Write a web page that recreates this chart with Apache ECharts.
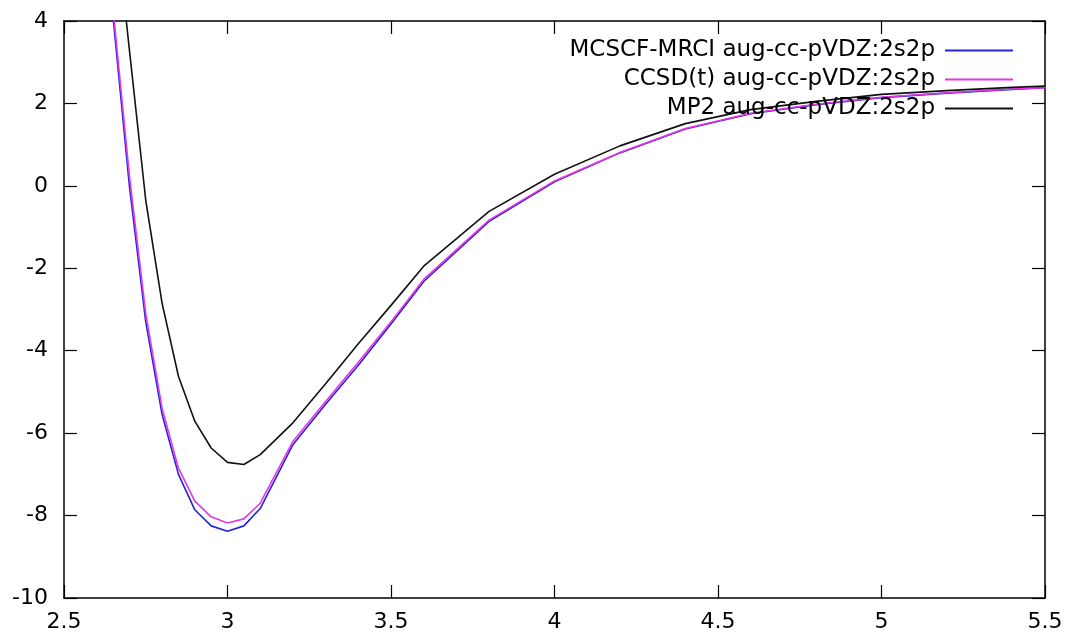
<!DOCTYPE html>
<html><head><meta charset="utf-8">
<script src="https://cdn.jsdelivr.net/npm/echarts@6/dist/echarts.min.js"></script>
<style>html,body{margin:0;padding:0;background:#fff}#c{width:1071px;height:641px}</style>
</head><body><div id="c"></div>
<script>
const xs = [2.6, 2.65, 2.7, 2.75, 2.8, 2.85, 2.9, 2.95, 3.0, 3.05, 3.1, 3.2, 3.3, 3.4, 3.5, 3.6, 3.8, 4.0, 4.2, 4.4, 4.6, 4.8, 5.0, 5.2, 5.4, 5.5];
const mrci = [9.5, 4.1, 0.0, -3.3, -5.55, -7.0, -7.86, -8.25, -8.38, -8.25, -7.83, -6.28, -5.3, -4.35, -3.35, -2.32, -0.86, 0.1, 0.8, 1.38, 1.75, 1.97, 2.14, 2.25, 2.34, 2.38];
const ccsd = [9.8, 4.3, 0.25, -3.1, -5.4, -6.85, -7.65, -8.03, -8.18, -8.08, -7.7, -6.2, -5.23, -4.28, -3.3, -2.27, -0.83, 0.12, 0.81, 1.39, 1.76, 1.98, 2.15, 2.26, 2.35, 2.38];
const mp2 = [13, 7.0, 3.3, -0.35, -2.85, -4.62, -5.71, -6.36, -6.71, -6.76, -6.52, -5.75, -4.8, -3.83, -2.9, -1.95, -0.62, 0.28, 0.97, 1.51, 1.85, 2.05, 2.22, 2.31, 2.39, 2.42];
const names = ['MCSCF-MRCI aug-cc-pVDZ:2s2p', 'CCSD(t) aug-cc-pVDZ:2s2p', 'MP2 aug-cc-pVDZ:2s2p'];
const colors = ['#2323d8', '#e635e6', '#111111'];

const pair = ys => xs.map((x, i) => [x, ys[i]]);
const font = 'DejaVu Sans';
const axisLine = {show: true, onZero: false, lineStyle: {color: '#000', width: 1.5}};
const tick = {show: true, inside: true, length: 13, lineStyle: {color: '#000', width: 1.2}};

const chart = echarts.init(document.getElementById('c'), null, {renderer: 'canvas'});
chart.setOption({
  animation: false,
  backgroundColor: '#fff',
  grid: {left: 64, right: 26, top: 21, bottom: 43, containLabel: false},
  xAxis: [
    {type: 'value', min: 2.5, max: 5.5, interval: 0.5, position: 'bottom',
     axisLine, axisTick: tick, splitLine: {show: false},
     axisLabel: {color: '#000', fontFamily: font, fontSize: 22, margin: 13}},
    {type: 'value', min: 2.5, max: 5.5, interval: 0.5, position: 'top',
     axisLine, axisTick: tick, splitLine: {show: false}, axisLabel: {show: false}}
  ],
  yAxis: [
    {type: 'value', min: -10, max: 4, interval: 2, position: 'left',
     axisLine, axisTick: tick, splitLine: {show: false},
     axisLabel: {color: '#000', fontFamily: font, fontSize: 22, margin: 16}},
    {type: 'value', min: -10, max: 4, interval: 2, position: 'right',
     axisLine, axisTick: tick, splitLine: {show: false}, axisLabel: {show: false}}
  ],
  legend: names.map((n, i) => ({
    data: [n], right: 53, top: 34 + i * 29, align: 'right',
    icon: 'rect', itemWidth: 68, itemHeight: 2,
    textStyle: {color: '#000', fontFamily: font, fontSize: 23, padding: [0, 5, 0, 0]},
    selectedMode: false
  })),
  series: [mrci, ccsd, mp2].map((ys, i) => ({
    name: names[i], type: 'line', data: pair(ys), showSymbol: false, symbol: 'none',
    clip: true, lineStyle: {color: colors[i], width: 1.6}, itemStyle: {color: colors[i]},
    xAxisIndex: 0, yAxisIndex: 0
  }))
});
</script></body></html>
